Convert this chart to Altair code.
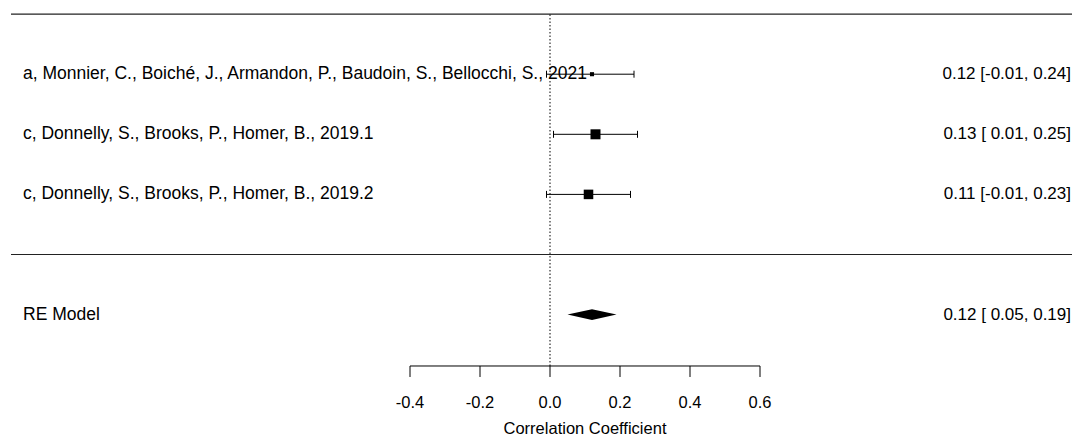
import altair as alt
import pandas as pd

# ---- data ----
studies = [
    "a, Monnier, C., Boiché, J., Armandon, P., Baudoin, S., Bellocchi, S., 2021",
    "c, Donnelly, S., Brooks, P., Homer, B., 2019.1",
    "c, Donnelly, S., Brooks, P., Homer, B., 2019.2",
]
estimates = [0.12, 0.13, 0.11]
ci_lower = [-0.01, 0.01, -0.01]
ci_upper = [0.24, 0.25, 0.23]
weights = [18, 44, 42]

re_label = "RE Model"
re_estimate = 0.12
re_lower = 0.05
re_upper = 0.19

tick_values = [-0.4, -0.2, 0.0, 0.2, 0.4, 0.6]
tick_labels = ["-0.4", "-0.2", "0.0", "0.2", "0.4", "0.6"]
x_title = "Correlation Coefficient"

# ---- layout (forest-plot coordinate system) ----
W, H = 1064, 431
PX_PER_X = 350.0
XMIN = -542.0 / PX_PER_X
XMAX = XMIN + W / PX_PER_X
PX_PER_Y = 60.1
YMAX = 246.5 / PX_PER_Y
YMIN = YMAX - H / PX_PER_Y

k = len(studies)
rows = list(range(k, 0, -1))
RE_ROW = -1
AXIS_Y = -1.855
LABEL_X = XMIN + 15 / PX_PER_X
ANNOT_X = XMIN + 1063 / PX_PER_X
LINE_X1 = XMIN + 3 / PX_PER_X
FONT = "Liberation Sans"
FS_LAB = 17.5
FS = 17

xs = alt.Scale(domain=[XMIN, XMAX], nice=False, zero=False)
ys = alt.Scale(domain=[YMIN, YMAX], nice=False, zero=False)


def X(f):
    return alt.X(f, type="quantitative", scale=xs, axis=None)


def Y(f):
    return alt.Y(f, type="quantitative", scale=ys, axis=None)


def fmt(e, lo, hi):
    return f"{e:.2f} [{lo:5.2f}, {hi:5.2f}]"


study_df = pd.DataFrame({
    "study": studies,
    "est": estimates,
    "lo": ci_lower,
    "hi": ci_upper,
    "w": weights,
    "row": rows,
    "lx": [LABEL_X] * k,
    "ax": [ANNOT_X] * k,
    "annot": [fmt(e, l, h) for e, l, h in zip(estimates, ci_lower, ci_upper)],
})

re_df = pd.DataFrame({
    "study": [re_label],
    "row": [RE_ROW],
    "lx": [LABEL_X],
    "ax": [ANNOT_X],
    "annot": [fmt(re_estimate, re_lower, re_upper)],
})

hline_df = pd.DataFrame({"y": [k + 1, 0], "x1": [LINE_X1] * 2, "x2": [XMAX] * 2})

DH = 0.09
diamond_df = pd.DataFrame({
    "x": [re_lower, re_estimate, re_upper],
    "y": [RE_ROW, RE_ROW + DH, RE_ROW],
    "y2": [RE_ROW, RE_ROW - DH, RE_ROW],
})

ref_df = pd.DataFrame({"x": [0.0], "y1": [AXIS_Y], "y2": [k + 1]})

axis_line_df = pd.DataFrame({"x1": [tick_values[0]], "x2": [tick_values[-1]], "y": [AXIS_Y]})
ticks_df = pd.DataFrame({"x": tick_values, "label": tick_labels, "y": [AXIS_Y] * len(tick_values)})
title_df = pd.DataFrame({
    "x": [(tick_values[0] + tick_values[-1]) / 2],
    "y": [AXIS_Y],
    "t": [x_title],
})

base_study = alt.Chart(study_df)

hlines = alt.Chart(hline_df).mark_rule(color="#222222", strokeWidth=1.2).encode(
    x=X("x1"), x2="x2", y=Y("y"))

refline = alt.Chart(ref_df).mark_rule(color="black", strokeWidth=1, strokeDash=[1.5, 2]).encode(
    x=X("x"), y=Y("y1"), y2="y2")

ci = base_study.mark_rule(color="black", strokeWidth=1).encode(
    x=X("lo"), x2="hi", y=Y("row"))
cap_lo = base_study.mark_rule(color="black", strokeWidth=1, yOffset=-3.5, y2Offset=3.5).encode(
    x=X("lo"), y=Y("row"), y2="row")
cap_hi = base_study.mark_rule(color="black", strokeWidth=1, yOffset=-3.5, y2Offset=3.5).encode(
    x=X("hi"), y=Y("row"), y2="row")

squares = base_study.mark_square(color="black", opacity=1, filled=True).encode(
    x=X("est"), y=Y("row"),
    size=alt.Size("w:Q", scale=alt.Scale(type="pow", exponent=2, domain=[0, 44], range=[0, 100]),
                  legend=None))

labels = base_study.mark_text(align="left", baseline="middle", font=FONT, fontSize=FS_LAB,
                              color="black").encode(x=X("lx"), y=Y("row"), text="study:N")
annots = base_study.mark_text(align="right", baseline="middle", font=FONT, fontSize=FS,
                              color="black").encode(x=X("ax"), y=Y("row"), text="annot:N")

re_labels = alt.Chart(re_df).mark_text(align="left", baseline="middle", font=FONT, fontSize=FS_LAB,
                                       color="black").encode(x=X("lx"), y=Y("row"), text="study:N")
re_annots = alt.Chart(re_df).mark_text(align="right", baseline="middle", font=FONT, fontSize=FS,
                                       color="black").encode(x=X("ax"), y=Y("row"), text="annot:N")

diamond = alt.Chart(diamond_df).mark_area(color="black", orient="vertical", opacity=1).encode(
    x=X("x"), y=Y("y"), y2="y2")

axis_line = alt.Chart(axis_line_df).mark_rule(color="black", strokeWidth=1).encode(
    x=X("x1"), x2="x2", y=Y("y"))
axis_ticks = alt.Chart(ticks_df).mark_rule(color="black", strokeWidth=1, y2Offset=11).encode(
    x=X("x"), y=Y("y"), y2="y")
axis_labels = alt.Chart(ticks_df).mark_text(align="center", baseline="middle", font=FONT,
                                            fontSize=16.5, color="black", dy=37).encode(
    x=X("x"), y=Y("y"), text="label:N")
axis_title = alt.Chart(title_df).mark_text(align="center", baseline="middle", font=FONT,
                                           fontSize=16.5, color="black", dy=63).encode(
    x=X("x"), y=Y("y"), text="t:N")

chart = alt.layer(
    hlines, refline, ci, cap_lo, cap_hi, squares, labels, annots,
    re_labels, re_annots, diamond, axis_line, axis_ticks, axis_labels, axis_title,
).properties(
    width=W, height=H, padding=0, autosize=alt.AutoSizeParams(type="none"),
    background="white",
).configure_view(stroke=None)

chart.save("out.html", embed_options={"renderer": "svg", "actions": False})
